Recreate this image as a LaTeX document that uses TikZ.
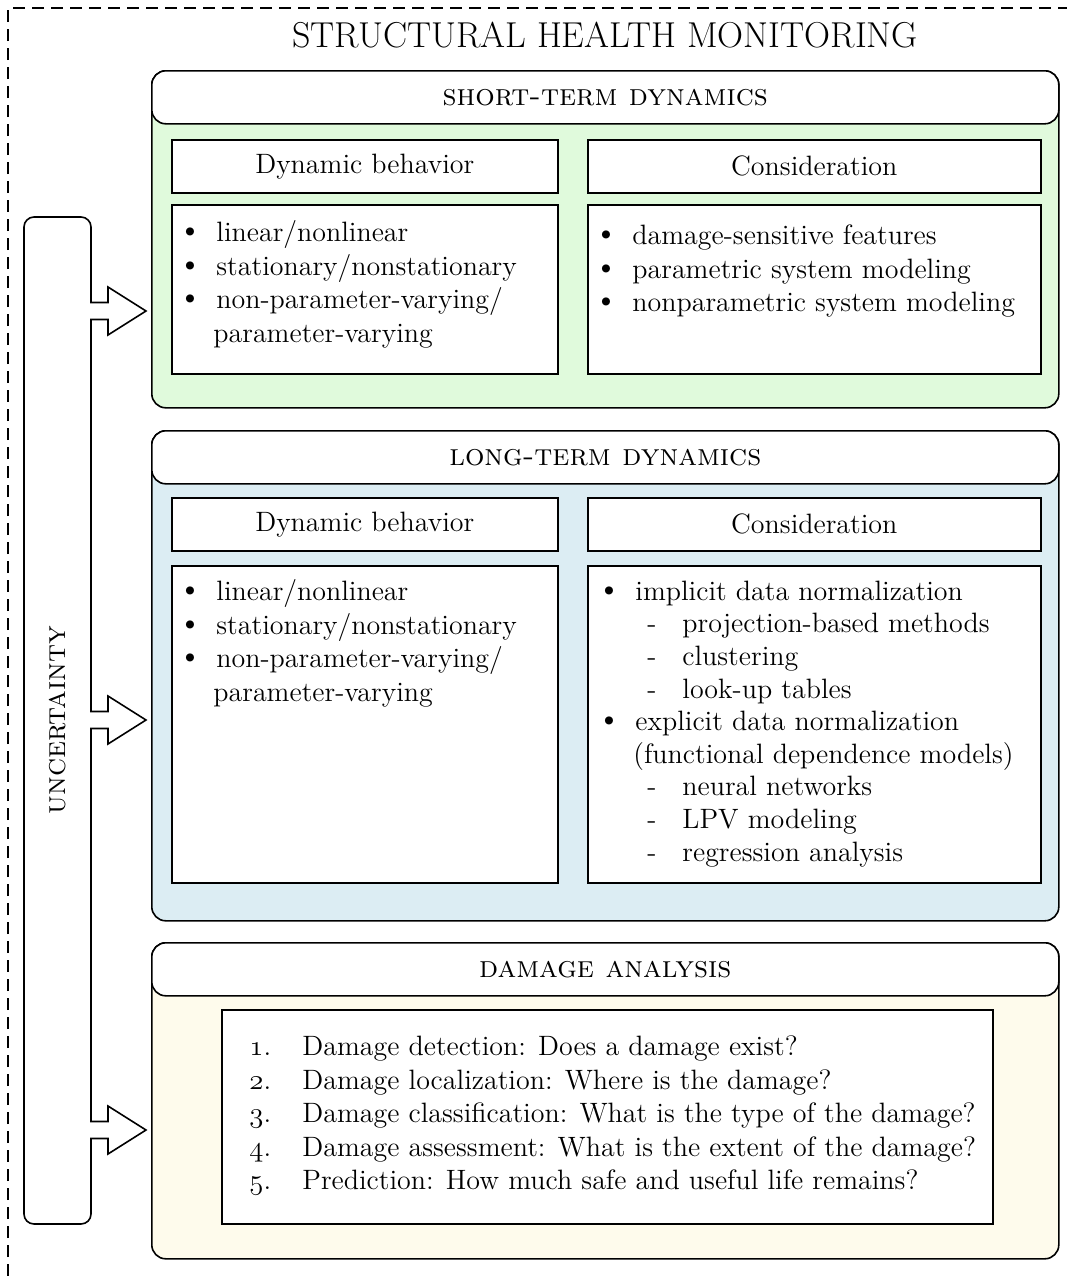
\documentclass[tikz,border=0pt]{standalone}
\usepackage{fontspec}
\usetikzlibrary{positioning}
\definecolor{stgreen}{HTML}{E0FADC}
\definecolor{ltblue}{HTML}{DCEDF3}
\definecolor{dacream}{HTML}{FEFBEC}
\newcommand\listfont{\fontsize{14}{16.75}\selectfont}
\newcommand\capsfont{\fontsize{15.3}{18}\selectfont\scshape\addfontfeatures{LetterSpace=8}}
\newcommand\bigbul{\smash{\fontsize{18}{16}\selectfont\textbullet}}
\newcommand\itm{\strut\makebox[17pt][l]{\hspace*{-2.5pt}\bigbul}}
\newcommand\subitm{\strut\hspace*{23pt}\makebox[17.5pt][l]{-}}
\newcommand\numitm[1]{\strut\makebox[26.5pt][l]{{\usefont{OML}{cmm}{m}{it}#1}.}}
\tikzset{
  sec/.style={draw, line width=0.8pt, rounded corners=7pt, anchor=north west, minimum width=453.5pt, inner sep=0},
  sechead/.style={sec, fill=white, minimum height=26.5pt, font=\capsfont},
  lblbox/.style={draw, line width=0.8pt, fill=white, anchor=north west, minimum height=26.5pt, inner sep=0, font=\listfont},
  txtbox/.style={draw, line width=0.8pt, fill=white, anchor=north west, inner sep=0},
  lst/.style={anchor=north west, inner sep=0, align=left, font=\listfont},
  blk/.style={draw, line width=0.8pt, fill=white}
}
\begin{document}
\begin{tikzpicture}[x=0.5pt,y=-0.5pt]
\useasboundingbox (0,0) rectangle (1067,1276);
\draw[line width=0.7pt, dash pattern=on 6pt off 3.5pt] (8,1276) -- (8,8) -- (1067,8);
\node[font=\fontsize{18}{21}\selectfont] (title) at (605,35) {STRUCTURAL HEALTH MONITORING};
% short-term
\node[sec, fill=stgreen, minimum height=168.5pt] (sec1) at (151,70) {};
\node[sechead] (head1) at (151,70) {short-term dynamics};
\node[lblbox, minimum width=193pt] (dyn1) at (171,139) {Dynamic behavior};
\node[lblbox, minimum width=226.5pt] (con1) at (587,139) {Consideration};
\node[txtbox, minimum width=193pt, minimum height=84.5pt] (bl1) at (171,204) {};
\node[txtbox, minimum width=226.5pt, minimum height=84.5pt] (br1) at (587,204) {};
\node[lst] (ll1) at (182,218) {\itm linear/nonlinear\\ \itm stationary/nonstationary\\ \itm non-parameter-varying/\\ \strut\hspace*{15.5pt}parameter-varying};
\node[lst] (lr1) at (598,221) {\itm damage-sensitive features\\ \itm parametric system modeling\\ \itm nonparametric system modeling};
% long-term
\node[sec, fill=ltblue, minimum height=245pt] (sec2) at (151,430) {};
\node[sechead] (head2) at (151,430) {long-term dynamics};
\node[lblbox, minimum width=193pt] (dyn2) at (171,497) {Dynamic behavior};
\node[lblbox, minimum width=226.5pt] (con2) at (587,497) {Consideration};
\node[txtbox, minimum width=193pt, minimum height=158.5pt] (bl2) at (171,565) {};
\node[txtbox, minimum width=226.5pt, minimum height=158.5pt] (br2) at (587,565) {};
\node[lst] (ll2) at (182,577) {\itm linear/nonlinear\\ \itm stationary/nonstationary\\ \itm non-parameter-varying/\\ \strut\hspace*{15.5pt}parameter-varying};
\node[lst, font=\fontsize{14}{16.3}\selectfont] (lr2) at (601,577) {\itm implicit data normalization\\ \subitm projection-based methods\\ \subitm clustering\\ \subitm look-up tables\\ \itm explicit data normalization\\ \strut\hspace*{16pt}(functional dependence models)\\ \subitm neural networks\\ \subitm LPV modeling\\ \subitm regression analysis};
% damage analysis
\node[sec, fill=dacream, minimum height=158pt] (sec3) at (151,942) {};
\node[sechead] (head3) at (151,942) {damage analysis};
\node[txtbox, minimum width=385.5pt, minimum height=107pt] (bd3) at (221,1009) {};
\node[lst] (ld3) at (249,1032) {\numitm{1}Damage detection: Does a damage exist?\\ \numitm{2}Damage localization: Where is the damage?\\ \numitm{3}Damage classification: What is the type of the damage?\\ \numitm{4}Damage assessment: What is the extent of the damage?\\ \numitm{5}Prediction: How much safe and useful life remains?};
% uncertainty
\draw[blk] (24,700) [rounded corners=5pt] -- (24,217) -- (91,217) -- (91,250) [sharp corners]
  \foreach \yc in {311,720,1130} {
  -- (91,\yc-8.5) -- (108,\yc-8.5) -- (108,\yc-24) -- (146,\yc) -- (108,\yc+24) -- (108,\yc+8.5) -- (91,\yc+8.5)}
  -- (91,1180) [rounded corners=5pt] -- (91,1224) -- (24,1224) -- cycle;
\node[rotate=90, font=\capsfont] (unc) at (58,720) {uncertainty};
\end{tikzpicture}
\end{document}
